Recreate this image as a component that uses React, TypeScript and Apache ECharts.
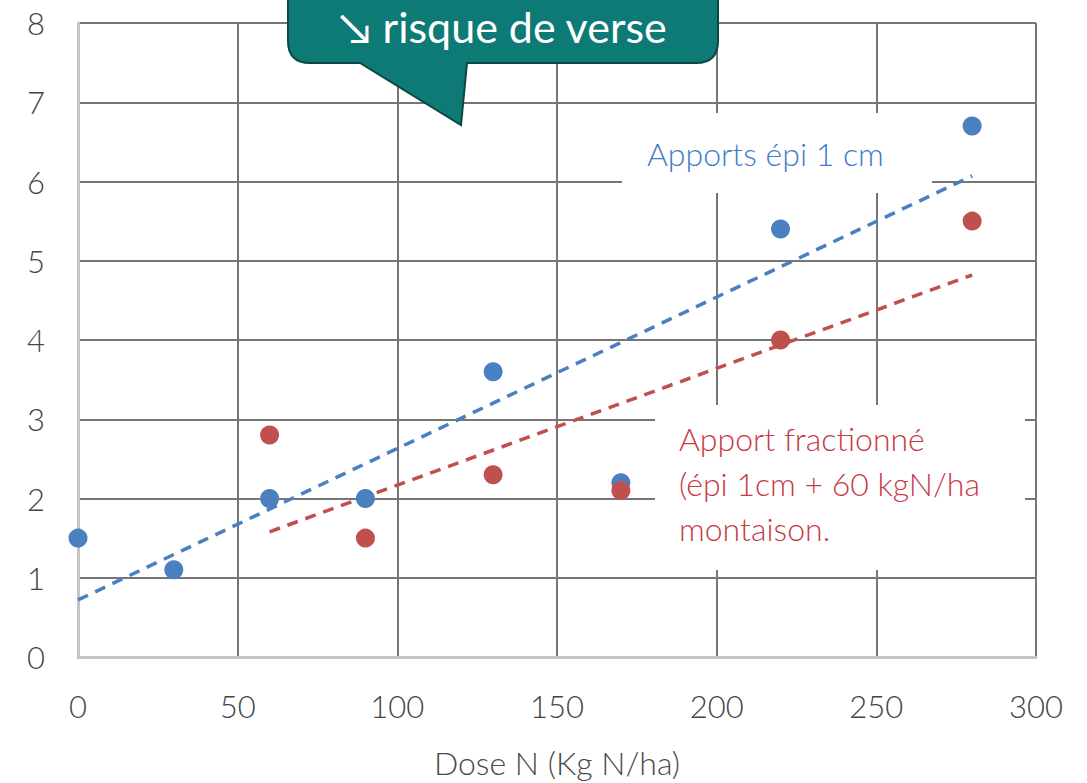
import React, { useEffect, useRef } from "react";
import * as echarts from "echarts";

const xTicks = [0, 50, 100, 150, 200, 250, 300];
const blueX = [0, 30, 60, 90, 130, 170, 220, 280];
const blueY = [1.5, 1.1, 2.0, 2.0, 3.6, 2.2, 5.4, 6.7];
const redX = [60, 90, 130, 170, 220, 280];
const redY = [2.8, 1.5, 2.3, 2.1, 4.0, 5.5];
const blueTrendX = [0, 280];
const blueTrendY = [0.72, 6.07];
const redTrendX = [60, 280];
const redTrendY = [1.58, 4.82];

const BLUE = "#4a7fc0";
const RED = "#c0504d";

const calloutPath =
  "M 310 -20 L 696 -20 Q 718 -20 718 2 L 718 41 Q 718 63 696 63 L 467 63 L 461 125 L 360 63 L 310 63 Q 288 63 288 41 L 288 2 Q 288 -20 310 -20 Z";

let registered = false;

export default function App() {
  const ref = useRef<HTMLDivElement>(null);
  useEffect(() => {
    document.body.style.margin = "0";
    if (!registered) {
      echarts.graphic.registerShape("callout", echarts.graphic.extendPath(calloutPath, {}) as any);
      registered = true;
    }
    const chart = echarts.init(ref.current!, null, { renderer: "svg" });
    const font = "Lato, 'Open Sans', sans-serif";
    const zip = (xs: number[], ys: number[]) => xs.map((x, i) => [x, ys[i]]);
    chart.setOption({
      animation: false,
      backgroundColor: "#ffffff",
      grid: { left: 78, right: 51, top: 23, bottom: 125 },
      xAxis: {
        type: "value",
        min: xTicks[0],
        max: xTicks[xTicks.length - 1],
        interval: 50,
        name: "Dose N (Kg N/ha)",
        nameLocation: "middle",
        nameGap: 89,
        nameTextStyle: { fontSize: 32, fontWeight: 300, color: "#4a4a4a", fontFamily: font },
        axisLine: { show: true, lineStyle: { color: "#c4c4c4", width: 3 } },
        axisTick: { show: false },
        axisLabel: { fontSize: 31, fontWeight: 300, color: "#454545", fontFamily: font, margin: 33 },
        splitLine: { show: true, lineStyle: { color: "#767676", width: 2 } },
      },
      yAxis: {
        type: "value",
        min: 0,
        max: 8,
        interval: 1,
        axisLine: { show: true, lineStyle: { color: "#c4c4c4", width: 3 } },
        axisTick: { show: false },
        axisLabel: { fontSize: 31, fontWeight: 300, color: "#454545", fontFamily: font, margin: 33 },
        splitLine: { show: true, lineStyle: { color: "#767676", width: 2 } },
      },
      graphic: [
        { type: "rect", z: 1, shape: { x: 622, y: 113, width: 310, height: 80 }, style: { fill: "#ffffff" } },
        { type: "rect", z: 1, shape: { x: 655, y: 405, width: 370, height: 165 }, style: { fill: "#ffffff" } },
        {
          type: "text",
          z: 1,
          x: 647,
          y: 153,
          style: { text: "Apports épi 1 cm", fill: "#3f7cc6", font: `300 32px ${font}`, verticalAlign: "middle" },
        },
        {
          type: "text",
          z: 1,
          x: 679,
          y: 416,
          style: {
            text: "Apport fractionné\n(épi 1cm + 60 kgN/ha\nmontaison.",
            fill: "#c83a46",
            font: `300 32px ${font}`,
            lineHeight: 45,
            verticalAlign: "top",
          },
        },
        {
          type: "callout",
          z: 100,
          x: 0,
          y: 0,
          style: { fill: "#0e7a76", stroke: "#0a4745", lineWidth: 2 },
        },
        {
          type: "text",
          z: 101,
          x: 503,
          y: 26,
          style: {
            text: "↘ risque de verse",
            fill: "#ffffff",
            font: `43px ${font}`,
            align: "center",
            verticalAlign: "middle",
          },
        },
      ],
      series: [
        {
          type: "line",
          data: zip(blueTrendX, blueTrendY),
          symbol: "none",
          z: 3,
          lineStyle: { color: BLUE, width: 3.5, type: [11, 8] },
        },
        {
          type: "line",
          data: zip(redTrendX, redTrendY),
          symbol: "none",
          z: 3,
          lineStyle: { color: RED, width: 3.5, type: [11, 8] },
        },
        {
          type: "scatter",
          data: zip(blueX, blueY),
          symbolSize: 19,
          z: 4,
          itemStyle: { color: BLUE, opacity: 1 },
        },
        {
          type: "scatter",
          data: zip(redX, redY),
          symbolSize: 19,
          z: 5,
          itemStyle: { color: RED, opacity: 1 },
        },
      ],
    });
    return () => chart.dispose();
  }, []);
  return <div ref={ref} style={{ width: 1087, height: 783 }} />;
}
